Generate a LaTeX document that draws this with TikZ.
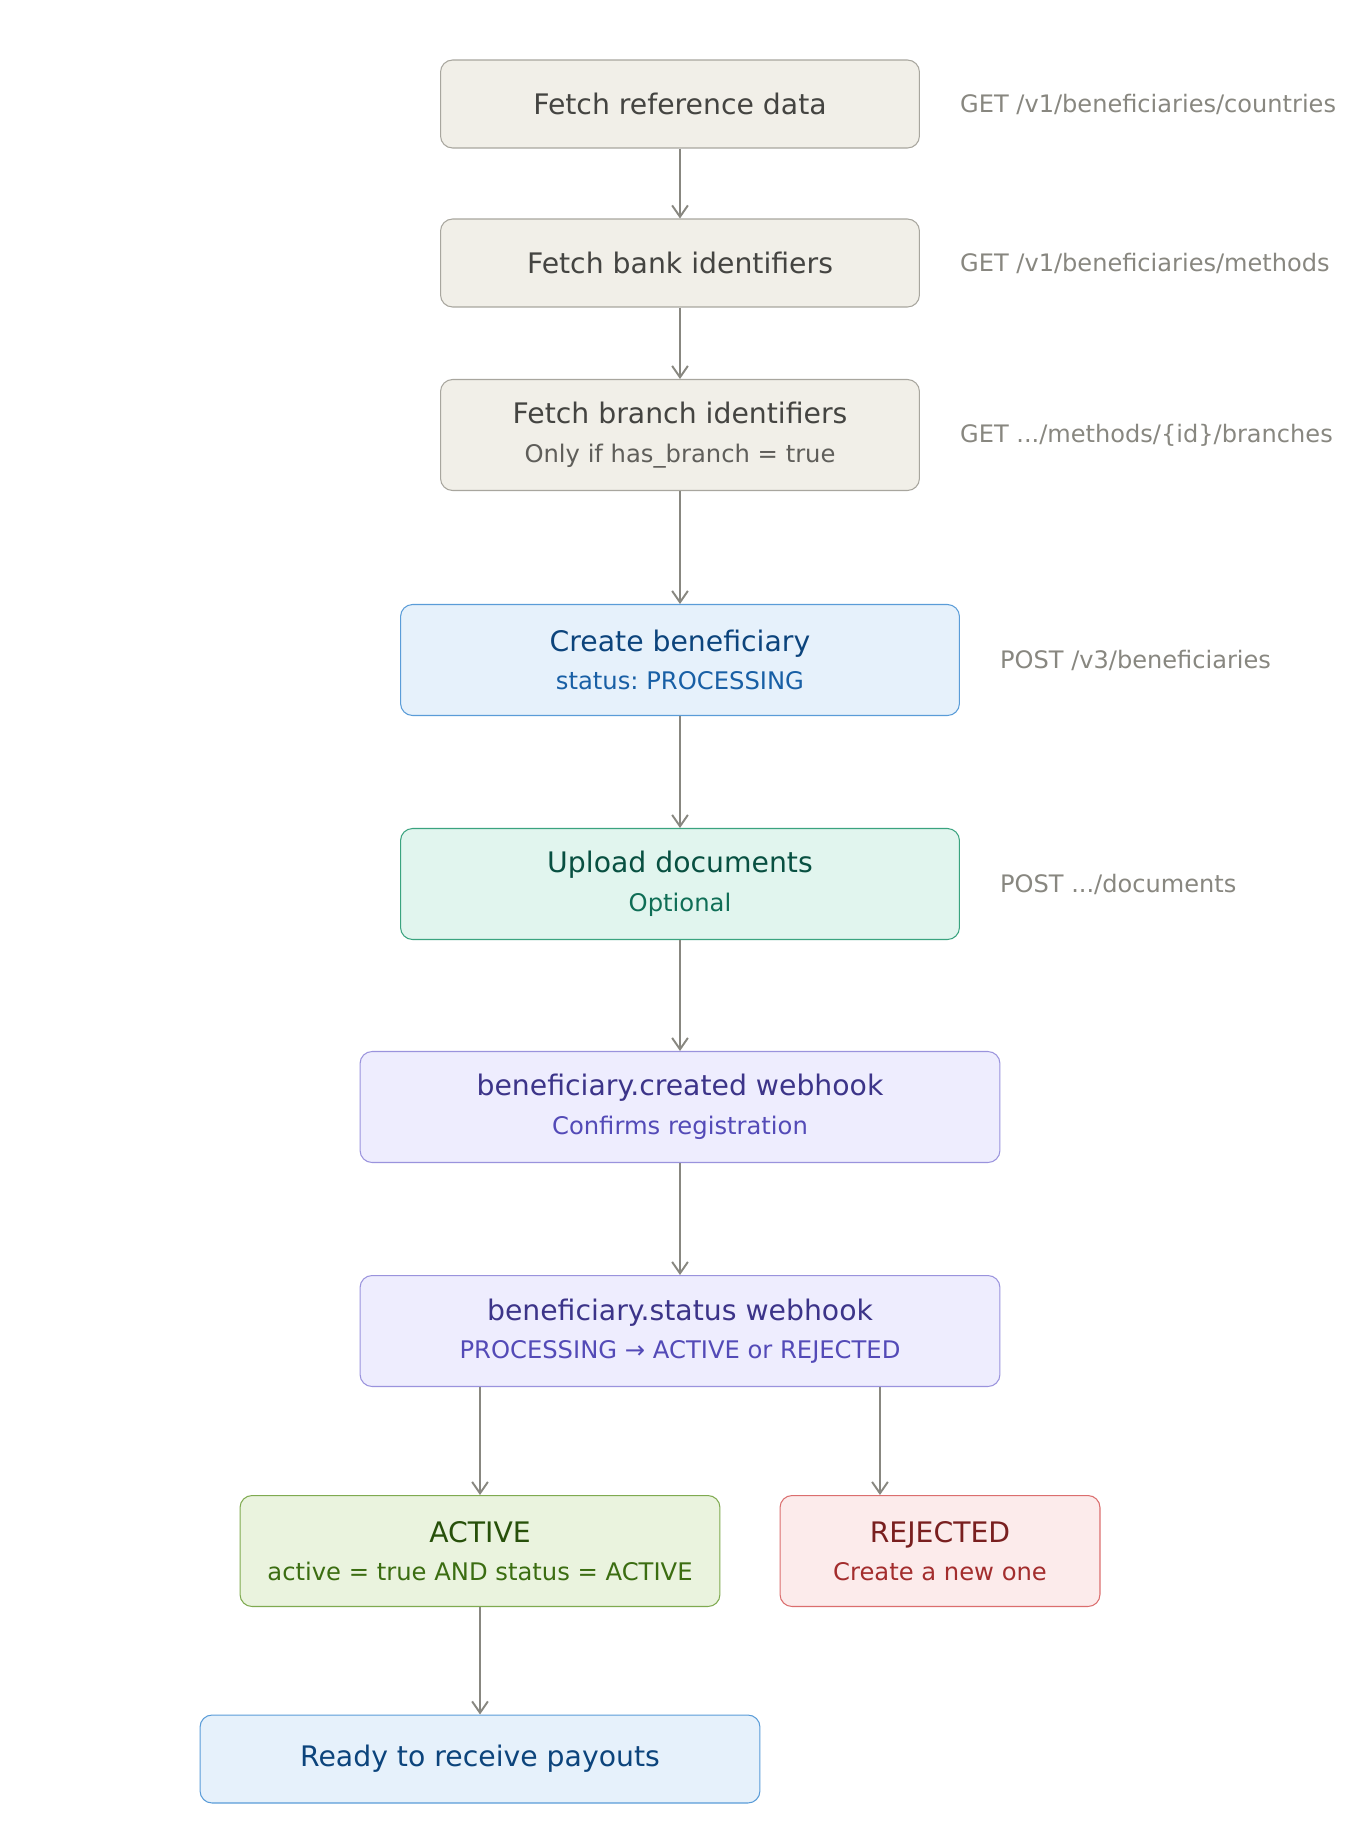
\documentclass[tikz,border=0pt]{standalone}
\usepackage{fontspec}
\setmainfont{DejaVu Sans}
\usepackage{xcolor}
\usetikzlibrary{arrows.meta, positioning}
\definecolor{grayfill}{HTML}{F1EFE8}
\definecolor{grayline}{HTML}{A8A69E}
\definecolor{graytext}{HTML}{444441}
\definecolor{graysub}{HTML}{5F5E5A}
\definecolor{bluefill}{HTML}{E6F1FB}
\definecolor{blueline}{HTML}{5A9CD8}
\definecolor{bluetext}{HTML}{0C447C}
\definecolor{bluesub}{HTML}{185FA5}
\definecolor{tealfill}{HTML}{E1F5EE}
\definecolor{tealline}{HTML}{3AA37F}
\definecolor{tealtext}{HTML}{085041}
\definecolor{tealsub}{HTML}{0F6E56}
\definecolor{purpfill}{HTML}{EEEDFE}
\definecolor{purpline}{HTML}{9A93DD}
\definecolor{purptext}{HTML}{3C3489}
\definecolor{purpsub}{HTML}{534AB7}
\definecolor{grnfill}{HTML}{EAF3DE}
\definecolor{grnline}{HTML}{7FAA50}
\definecolor{grntext}{HTML}{27500A}
\definecolor{grnsub}{HTML}{3B6D11}
\definecolor{redfill}{HTML}{FCEBEB}
\definecolor{redline}{HTML}{DB6E6E}
\definecolor{redtext}{HTML}{791F1F}
\definecolor{redsub}{HTML}{A32D2D}
\definecolor{apigray}{HTML}{888780}
\newcommand\subline[2]{{\fontsize{13.8}{22}\selectfont\color{#1}#2}}
\frenchspacing
\tikzset{
  box/.style={draw, rounded corners=0.24cm, line width=0.6pt, align=center,
    inner sep=0pt, font=\fontsize{16.1}{22}\selectfont},
  graybox/.style={box, fill=grayfill, draw=grayline, text=graytext},
  bluebox/.style={box, fill=bluefill, draw=blueline, text=bluetext},
  tealbox/.style={box, fill=tealfill, draw=tealline, text=tealtext},
  purpbox/.style={box, fill=purpfill, draw=purpline, text=purptext},
  grnbox/.style={box, fill=grnfill, draw=grnline, text=grntext},
  redbox/.style={box, fill=redfill, draw=redline, text=redtext},
  api/.style={text=apigray, font=\fontsize{13.7}{16}\selectfont, right=0.68cm of #1},
  flow/.style={draw=apigray, line width=1.1pt, -{Straight Barb[length=6.5pt,width=9pt]}}
}

\begin{document}
\begin{tikzpicture}[x=0.02cm, y=-0.02cm]
  \useasboundingbox (0,0) rectangle (1360,1840);
  % lookup calls
  \node[graybox, minimum width=9.58cm, minimum height=1.76cm] (refdata) at (680,104) {Fetch reference data};
  \node[graybox, minimum width=9.58cm, minimum height=1.76cm] (bankids) at (680,263) {Fetch bank identifiers};
  \node[graybox, minimum width=9.58cm, minimum height=2.22cm] (branchids) at (680,435)
    {Fetch branch identifiers\\\subline{graysub}{Only if has\_branch = true}};
  % creation
  \node[bluebox, minimum width=11.18cm, minimum height=2.22cm] (create) at (680,660)
    {Create beneficiary\\\subline{bluesub}{status: PROCESSING}};
  \node[tealbox, minimum width=11.18cm, minimum height=2.22cm] (upload) at (680,884)
    {Upload documents\\\subline{tealsub}{Optional}};
  % webhooks
  \node[purpbox, minimum width=12.8cm, minimum height=2.22cm] (created) at (680,1107)
    {beneficiary.created webhook\\\subline{purpsub}{Confirms registration}};
  \node[purpbox, minimum width=12.8cm, minimum height=2.22cm] (status) at (680,1331)
    {beneficiary.status webhook\\\subline{purpsub}{PROCESSING → ACTIVE or REJECTED}};
  % outcomes
  \node[grnbox, minimum width=9.6cm, minimum height=2.22cm] (active) at (480,1551)
    {ACTIVE\\\subline{grnsub}{active = true AND status = ACTIVE}};
  \node[redbox, minimum width=6.4cm, minimum height=2.22cm] (rejected) at (940,1551)
    {REJECTED\\\subline{redsub}{Create a new one}};
  \node[bluebox, minimum width=11.2cm, minimum height=1.76cm] (ready) at (480,1759) {Ready to receive payouts};

  % endpoints
  \node[api=refdata] (apiref) {GET /v1/beneficiaries/countries};
  \node[api=bankids] (apibank) {GET /v1/beneficiaries/methods};
  \node[api=branchids] (apibranch) {GET .../methods/\{id\}/branches};
  \node[api=create] (apicreate) {POST /v3/beneficiaries};
  \node[api=upload] (apiupload) {POST .../documents};

  \draw[flow] (refdata) -- (bankids);
  \draw[flow] (bankids) -- (branchids);
  \draw[flow] (branchids) -- (create);
  \draw[flow] (create) -- (upload);
  \draw[flow] (upload) -- (created);
  \draw[flow] (created) -- (status);
  \draw[flow] (status.south -| active) -- (active);
  \draw[flow] ([xshift=4cm]status.south) -- ([xshift=4cm]status.south |- rejected.north);
  \draw[flow] (active) -- (ready);
\end{tikzpicture}
\end{document}
